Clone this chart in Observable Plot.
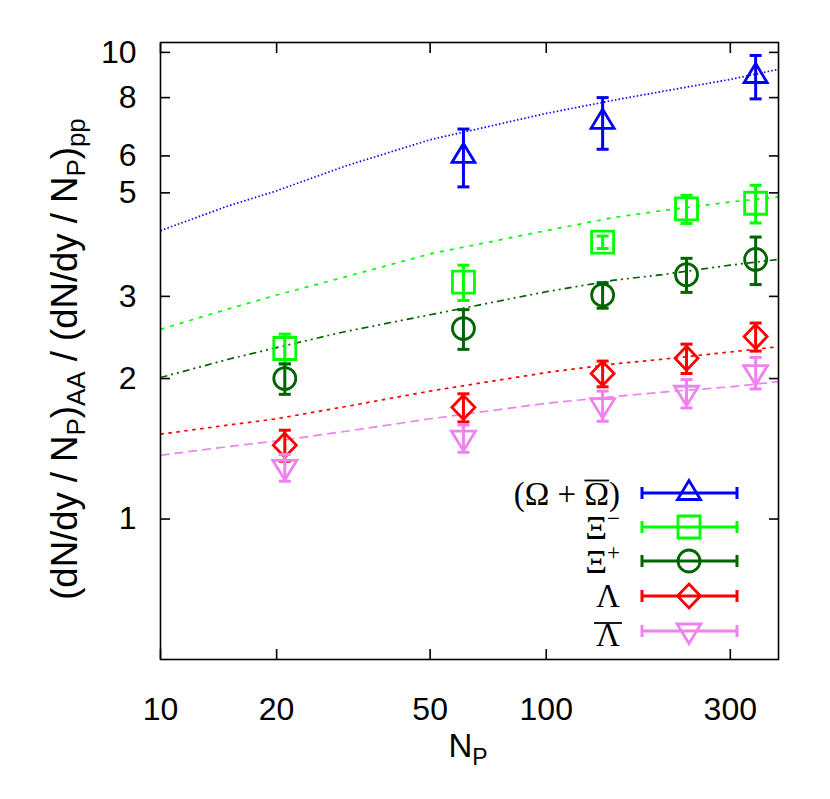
<!DOCTYPE html>
<html><head><meta charset="utf-8">
<script src="https://cdn.jsdelivr.net/npm/d3@7"></script>
<script src="https://cdn.jsdelivr.net/npm/@observablehq/plot@0.6"></script>
<style>body{margin:0;background:#fff}</style>
</head><body><div id="chart"></div>
<script>
// ---- data ----
const npart = [21, 61, 140, 231, 349];
const omegaNp = [61, 140, 349];
const omegaVal = [6.0, 7.1, 8.9];
const omegaErr = [0.85, 0.9, 0.95];
const xiMinusVal = [2.32, 3.22, 3.92, 4.62, 4.75];
const xiMinusErr = [0.17, 0.28, 0.12, 0.32, 0.44];
const xiPlusVal = [2.0, 2.56, 3.02, 3.34, 3.60];
const xiPlusErr = [0.15, 0.25, 0.19, 0.28, 0.42];
const lambdaVal = [1.44, 1.735, 2.05, 2.21, 2.46];
const lambdaErr = [0.11, 0.12, 0.13, 0.16, 0.17];
const antiLambdaVal = [1.29, 1.49, 1.75, 1.86, 2.06];
const antiLambdaErr = [0.085, 0.10, 0.13, 0.13, 0.16];

const curveNp = [10, 15, 20, 30, 50, 100, 150, 200, 300, 400];
const omegaCurve = [4.15, 4.69, 5.05, 5.7, 6.5, 7.4, 7.9, 8.25, 8.75, 9.2];
const xiMinusCurve = [2.55, 2.82, 3.02, 3.3, 3.7, 4.15, 4.43, 4.58, 4.78, 4.9];
const xiPlusCurve = [2.01, 2.2, 2.33, 2.52, 2.74, 3.07, 3.25, 3.34, 3.5, 3.6];
const lambdaCurve = [1.52, 1.59, 1.64, 1.74, 1.88, 2.06, 2.15, 2.2, 2.28, 2.34];
const antiLambdaCurve = [1.37, 1.43, 1.47, 1.54, 1.64, 1.77, 1.83, 1.87, 1.92, 1.97];

const xTicks = [10, 20, 50, 100, 300];
const yTicks = [1, 2, 3, 5, 6, 8, 10];
const seriesNames = ["Omega", "XiMinus", "XiPlus", "Lambda", "AntiLambda"];
const seriesColors = ["#0000ff", "#00ff00", "#006400", "#ff0000", "#ee82ee"];

// ---- symbols (gnuplot-like open markers) ----
const triUp = {draw(c){ c.moveTo(0,-12.5); c.lineTo(11.5,6.5); c.lineTo(-11.5,6.5); c.closePath(); }};
const triDown = {draw(c){ c.moveTo(0,12.5); c.lineTo(12,-7); c.lineTo(-12,-7); c.closePath(); }};
const square = {draw(c){ c.rect(-11,-11,22,22); }};
const circle = {draw(c){ c.moveTo(11,0); c.arc(0,0,11,0,2*Math.PI); c.closePath(); }};
const diamond = {draw(c){ c.moveTo(0,-12); c.lineTo(11.5,0); c.lineTo(0,12); c.lineTo(-11.5,0); c.closePath(); }};
const cap = {draw(c){ c.moveTo(-6,0); c.lineTo(6,0); }};
const seriesSymbols = [triUp, square, circle, diamond, triDown];
const dashes = ["1.5,2.2", "4,6", "7,4,2,4,2,4", "3.5,4.5", "9,5"];

function pts(np, val, err) {
  return np.map((n, i) => ({n, v: val[i], lo: val[i] - err[i], hi: val[i] + err[i]}));
}
function curve(vals) { return curveNp.map((n, i) => ({n, v: vals[i]})); }

const pointSets = [
  pts(omegaNp, omegaVal, omegaErr),
  pts(npart, xiMinusVal, xiMinusErr),
  pts(npart, xiPlusVal, xiPlusErr),
  pts(npart, lambdaVal, lambdaErr),
  pts(npart, antiLambdaVal, antiLambdaErr)
];
const curveSets = [omegaCurve, xiMinusCurve, xiPlusCurve, lambdaCurve, antiLambdaCurve].map(curve);

const marks = [];
for (let k = 0; k < 5; k++) {
  const col = seriesColors[k];
  marks.push(Plot.line(curveSets[k], {x: "n", y: "v", stroke: col, strokeWidth: 1.7, strokeDasharray: dashes[k], strokeLinecap: "butt"}));
}
for (let k = 0; k < 5; k++) {
  const col = seriesColors[k], d = pointSets[k];
  marks.push(Plot.ruleX(d, {x: "n", y1: "lo", y2: "hi", stroke: col, strokeWidth: 3}));
  marks.push(Plot.dot(d, {x: "n", y: "lo", symbol: cap, stroke: col, strokeWidth: 3, fill: "none"}));
  marks.push(Plot.dot(d, {x: "n", y: "hi", symbol: cap, stroke: col, strokeWidth: 3, fill: "none"}));
  marks.push(Plot.dot(d, {x: "n", y: "v", symbol: seriesSymbols[k], stroke: col, strokeWidth: 2.8, fill: "none"}));
}
marks.push(Plot.frame({stroke: "black", strokeWidth: 1.6}));
marks.push(Plot.axisX(xTicks, {anchor: "bottom", tickSize: -10, tickPadding: 48, tickFormat: d => String(d), fontSize: 32, strokeWidth: 1.6, label: null}));
marks.push(Plot.axisX(xTicks, {anchor: "top", tickSize: -10, tickFormat: () => "", strokeWidth: 1.6, label: null}));
marks.push(Plot.axisY(yTicks, {anchor: "left", tickSize: -10, tickPadding: 34, tickFormat: d => String(d), fontSize: 32, strokeWidth: 1.6, label: null}));
marks.push(Plot.axisY(yTicks, {anchor: "right", tickSize: -10, tickFormat: () => "", strokeWidth: 1.6, label: null}));

const chart = Plot.plot({
  width: 830,
  height: 799,
  marginLeft: 160,
  marginRight: 52,
  marginTop: 42,
  marginBottom: 140,
  style: {fontFamily: "'Liberation Sans', Arial, Helvetica, sans-serif", fontSize: "32px", background: "white", color: "black"},
  x: {type: "log", domain: [10, 400], label: null},
  y: {type: "log", domain: [0.5, 10.5], label: null},
  marks
});
document.getElementById("chart").appendChild(chart);

// ---- axis titles and legend (layout) ----
const svg = d3.select(chart);
const sans = "'Liberation Sans', Arial, Helvetica, sans-serif";
const serif = "'Liberation Serif', 'DejaVu Serif', 'Times New Roman', serif";

// x title N_P
const xt = svg.append("text").attr("x", 468).attr("y", 757).attr("text-anchor", "middle")
  .attr("font-family", sans).attr("font-size", 33).attr("fill", "black");
xt.append("tspan").text("N");
xt.append("tspan").attr("dy", 8).attr("font-size", 23).text("P");

// y title
const yt = svg.append("text").attr("transform", "translate(77,359) rotate(-90)").attr("text-anchor", "middle")
  .attr("font-family", sans).attr("font-size", 36.5).attr("fill", "black");
function sub(t, s) { t.append("tspan").attr("dy", 8).attr("font-size", 26).text(s); }
function norm(t, s) { t.append("tspan").attr("dy", -8).text(s); }
yt.append("tspan").text("(dN/dy / N");
sub(yt, "P"); norm(yt, ")"); sub(yt, "AA"); norm(yt, " / (dN/dy / N");
sub(yt, "P"); norm(yt, ")"); sub(yt, "pp");

// legend
const rowsY = [493, 527, 561, 596, 631];
const lg = svg.append("g");
for (let k = 0; k < 5; k++) {
  const y = rowsY[k], col = seriesColors[k];
  lg.append("line").attr("x1", 642).attr("x2", 737).attr("y1", y).attr("y2", y).attr("stroke", col).attr("stroke-width", 3);
  lg.append("line").attr("x1", 642).attr("x2", 642).attr("y1", y - 6).attr("y2", y + 6).attr("stroke", col).attr("stroke-width", 3);
  lg.append("line").attr("x1", 737).attr("x2", 737).attr("y1", y - 6).attr("y2", y + 6).attr("stroke", col).attr("stroke-width", 3);
  const p = d3.path(); seriesSymbols[k].draw(p, 0);
  lg.append("path").attr("d", p.toString()).attr("transform", `translate(689,${y})`).attr("fill", "none").attr("stroke", col).attr("stroke-width", 2.8);
}
function label(y, off, size) {
  return lg.append("text").attr("x", 620).attr("y", y + off).attr("text-anchor", "end")
    .attr("font-family", serif).attr("font-size", size).attr("fill", "black");
}
function overline(textSel, idx, yLine, extra) {
  const r = textSel.node().getExtentOfChar(idx);
  lg.append("line").attr("x1", r.x - extra).attr("x2", r.x + r.width + extra)
    .attr("y1", yLine).attr("y2", yLine).attr("stroke", "black").attr("stroke-width", 1.8);
}
const l0 = label(rowsY[0], 12, 33);
l0.text("(Ω + Ω)");
overline(l0, 5, 480.5, 0);
const l1 = label(rowsY[1], 12, 23);
l1.append("tspan").attr("font-size", 34).text("Ξ");
l1.append("tspan").attr("dy", -13).text("−");
const l2 = label(rowsY[2], 12, 23);
l2.append("tspan").attr("font-size", 34).text("Ξ");
l2.append("tspan").attr("dy", -13).text("+");
label(rowsY[3], 11, 33).text("Λ");
const l4 = label(rowsY[4], 15, 33);
l4.text("Λ");
overline(l4, 0, 623, 2);
</script>
</body></html>
